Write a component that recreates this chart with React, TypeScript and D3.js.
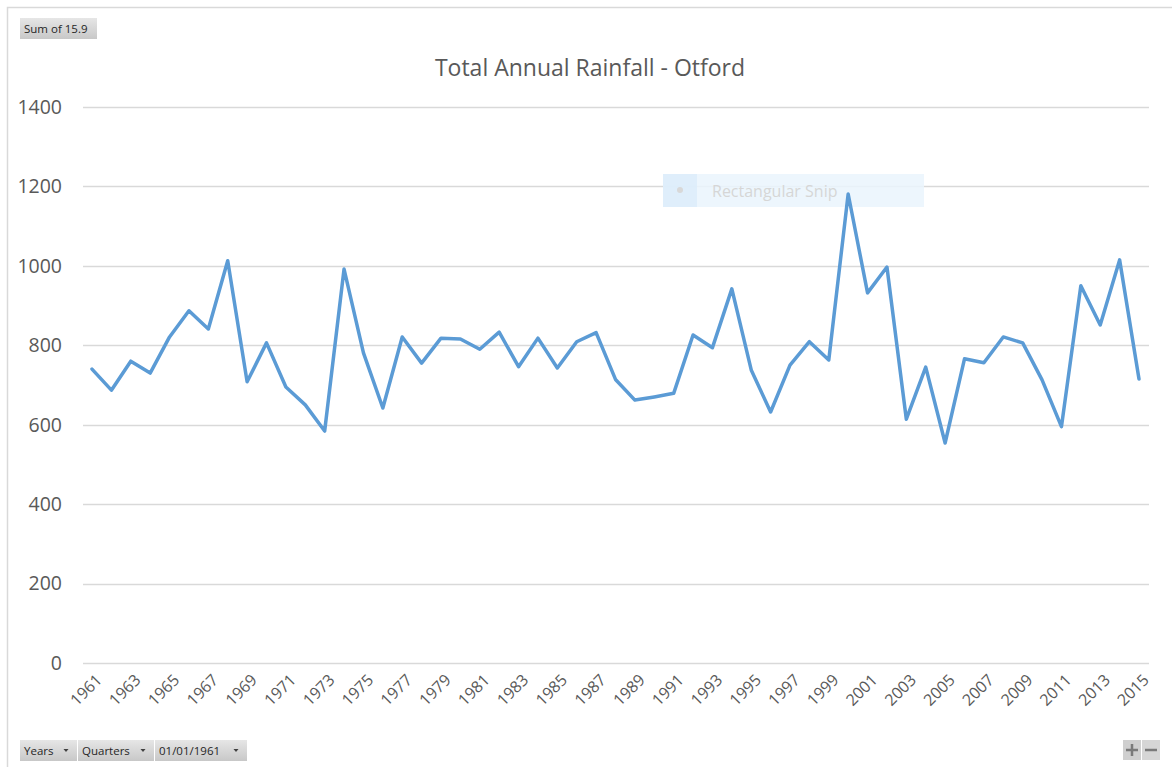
import React, { useEffect, useRef } from 'react';
import * as d3 from 'd3';

const years = d3.range(1961, 2016);
const rainfall = [
  740, 687, 760, 730, 821, 887, 841, 1013, 708, 806,
  695, 650, 584, 992, 781, 642, 821, 755, 818, 816,
  790, 833, 746, 818, 743, 809, 832, 714, 662, 670,
  679, 826, 794, 942, 738, 632, 750, 809, 763, 1181,
  932, 997, 614, 745, 554, 766, 756, 821, 806, 713,
  595, 950, 851, 1015, 715,
];
const yTicks = [0, 200, 400, 600, 800, 1000, 1200, 1400];
const title = 'Total Annual Rainfall - Otford';
const fieldButtons = ['Years', 'Quarters', '01/01/1961'];

const W = 1172;
const H = 767;
const FONT = "'Open Sans', 'Liberation Sans', sans-serif";

function App() {
  const svgRef = useRef<SVGSVGElement>(null);

  useEffect(() => {
    const svg = d3.select(svgRef.current);
    svg.selectAll('*').remove();

    const x = d3.scalePoint<number>().domain(years).range([92, 1139]);
    const y = d3.scaleLinear().domain([0, 1400]).range([663, 107]);

    const defs = svg.append('defs');
    const grad = defs.append('linearGradient').attr('id', 'btn').attr('x1', 0).attr('y1', 0).attr('x2', 0).attr('y2', 1);
    grad.append('stop').attr('offset', '0%').attr('stop-color', '#e6e6e6');
    grad.append('stop').attr('offset', '100%').attr('stop-color', '#c8c8c8');

    svg.append('rect').attr('width', W).attr('height', H).attr('fill', '#fff');

    // chart frame
    svg.append('path')
      .attr('d', `M7.5,${H} V7.5 H${W}`)
      .attr('fill', 'none')
      .attr('stroke', '#d9d9d9')
      .attr('stroke-width', 1.5);

    // gridlines
    svg.append('g')
      .selectAll('line')
      .data(yTicks)
      .join('line')
      .attr('x1', 83)
      .attr('x2', 1149)
      .attr('y1', (d) => Math.round(y(d)) + 0.5)
      .attr('y2', (d) => Math.round(y(d)) + 0.5)
      .attr('stroke', '#d9d9d9')
      .attr('stroke-width', 1.3);

    // y axis labels
    svg.append('g')
      .selectAll('text')
      .data(yTicks)
      .join('text')
      .attr('x', 62)
      .attr('y', (d) => y(d))
      .attr('dy', '0.35em')
      .attr('text-anchor', 'end')
      .attr('font-family', FONT)
      .attr('font-size', 19.5)
      .attr('fill', '#595959')
      .text((d) => String(d));

    // x axis labels (every other year)
    svg.append('g')
      .selectAll('text')
      .data(years.filter((d) => (d - 1961) % 2 === 0))
      .join('text')
      .attr('transform', (d) => `translate(${(x(d) ?? 0) + 7},${677}) rotate(-45)`)
      .attr('text-anchor', 'end')
      .attr('dy', '0.35em')
      .attr('font-family', FONT)
      .attr('font-size', 16)
      .attr('fill', '#595959')
      .text((d) => String(d));

    // title
    svg.append('text')
      .attr('x', 590)
      .attr('y', 76)
      .attr('text-anchor', 'middle')
      .attr('font-family', FONT)
      .attr('font-size', 23)
      .attr('fill', '#595959')
      .text(title);

    // snip overlay
    const snip = svg.append('g');
    snip.append('rect').attr('x', 663).attr('y', 174).attr('width', 261).attr('height', 33).attr('fill', '#eaf4fd').attr('opacity', 0.85);
    snip.append('rect').attr('x', 663).attr('y', 174).attr('width', 34).attr('height', 33).attr('fill', '#dcecfa').attr('opacity', 0.85);
    snip.append('circle').attr('cx', 680).attr('cy', 190).attr('r', 3).attr('fill', '#d8d8d8');
    snip.append('text')
      .attr('x', 712).attr('y', 197)
      .attr('font-family', FONT).attr('font-size', 16)
      .attr('fill', '#d6d6d6')
      .text('Rectangular Snip');

    // series line
    const lineGen = d3.line<number>()
      .x((_, i) => x(years[i]) ?? 0)
      .y((d) => y(d));
    svg.append('path')
      .datum(rainfall)
      .attr('d', lineGen)
      .attr('fill', 'none')
      .attr('stroke', '#5b9bd5')
      .attr('stroke-width', 3.5)
      .attr('stroke-linejoin', 'round')
      .attr('stroke-linecap', 'round');

    // field buttons
    const button = (bx: number, by: number, bw: number, bh: number, label: string, arrow: boolean) => {
      const g = svg.append('g');
      g.append('rect').attr('x', bx).attr('y', by).attr('width', bw).attr('height', bh).attr('fill', 'url(#btn)');
      g.append('text')
        .attr('x', bx + 4).attr('y', by + bh / 2).attr('dy', '0.35em')
        .attr('font-family', FONT).attr('font-size', 11.5)
        .attr('fill', '#262626')
        .text(label);
      if (arrow) {
        const ax = bx + bw - 11;
        const ay = by + bh / 2;
        g.append('path').attr('d', `M${ax - 2.5},${ay - 1.5} L${ax + 2.5},${ay - 1.5} L${ax},${ay + 1.5} Z`).attr('fill', '#404040');
      }
    };
    button(20, 18, 77, 21, 'Sum of 15.9', false);
    let bx = 20;
    const widths = [58, 77, 93];
    fieldButtons.forEach((label, i) => {
      button(bx, 740, widths[i] - 1, 21, label, true);
      bx += widths[i];
    });

    // +/- buttons
    const pm = svg.append('g');
    pm.append('rect').attr('x', 1123).attr('y', 740).attr('width', 18).attr('height', 20).attr('fill', '#cfcfcf');
    pm.append('rect').attr('x', 1142).attr('y', 740).attr('width', 18).attr('height', 20).attr('fill', '#d6d6d6');
    pm.append('path').attr('d', 'M1126,750 H1138 M1132,744 V756').attr('stroke', '#7a7a7a').attr('stroke-width', 2.5);
    pm.append('path').attr('d', 'M1145,750 H1157').attr('stroke', '#7a7a7a').attr('stroke-width', 2.5);
  }, []);

  return (
    <svg
      ref={svgRef}
      width={W}
      height={H}
      style={{ position: 'absolute', left: 0, top: 0, display: 'block' }}
    />
  );
}

export default App;
